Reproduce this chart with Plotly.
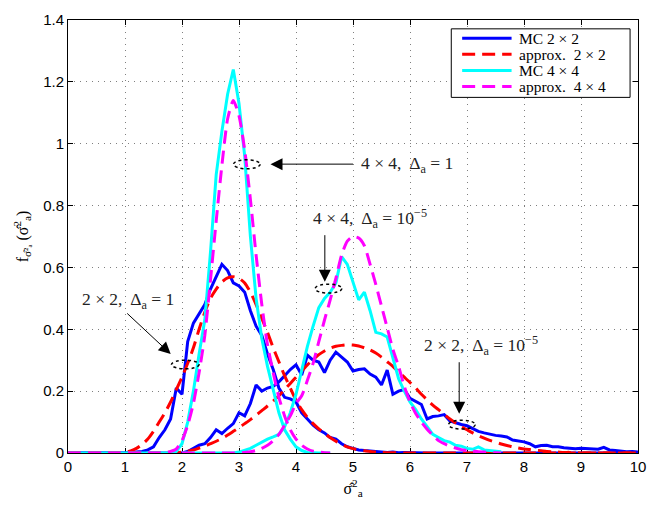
import plotly.graph_objects as go

# bin centres / evaluation points (0 .. 10, step 0.1)
x_vals = [round(0.1 * i, 1) for i in range(101)]
N = None

# MC 2x2, Delta_a = 1
mc22_d1 = [0, 0, 0, 0, 0, 0, 0, 0, 0, 0,
           0, 0, 0.003, 0.005, 0.01, 0.02, 0.05, 0.075, 0.11, 0.21,
           0.19, 0.36, 0.42, 0.45, 0.48, 0.53, 0.57, 0.61, 0.59, 0.55,
           0.54, 0.52, 0.46, 0.41, 0.38, 0.32, 0.27, 0.21, 0.18, 0.175,
           0.165, 0.13, 0.11, 0.09, 0.075, 0.065, 0.05, 0.045, 0.03, 0.02,
           0.015, 0.01, 0.008, 0.006, 0.004, 0.003, 0.002, 0.003, 0.001, 0.002,
           0.001, 0, 0.001, 0, 0, 0, 0, 0, 0, 0,
           0, 0, 0, 0, 0, 0, 0, 0, 0, 0,
           0, 0, 0, 0, 0, 0, 0, 0, 0, 0,
           0, 0, 0, 0, 0, 0, 0, 0, 0, 0,
           0]

# MC 2x2, Delta_a = 1e-5
mc22_d5 = [0, 0, 0, 0, 0, 0, 0, 0, 0, 0,
           0, 0, 0, 0, 0, 0, 0, 0, 0, 0,
           0, 0.005, 0.015, 0.025, 0.03, 0.05, 0.075, 0.063, 0.08, 0.095,
           0.13, 0.12, 0.16, 0.22, 0.2, 0.21, 0.215, 0.23, 0.25, 0.27,
           0.285, 0.252, 0.316, 0.3, 0.294, 0.26, 0.3, 0.326, 0.31, 0.294,
           0.265, 0.27, 0.272, 0.255, 0.245, 0.22, 0.268, 0.19, 0.2, 0.205,
           0.177, 0.168, 0.157, 0.11, 0.118, 0.12, 0.124, 0.104, 0.097, 0.092,
           0.088, 0.08, 0.07, 0.065, 0.06, 0.057, 0.055, 0.052, 0.042, 0.04,
           0.036, 0.03, 0.02, 0.024, 0.025, 0.02, 0.02, 0.017, 0.015, 0.014,
           0.015, 0.014, 0.015, 0.012, 0.018, 0.01, 0.008, 0.006, 0.004, 0.005,
           0.003]

# approx 2x2, Delta_a = 1
ap22_d1 = [0, 0, 0, 0, 0, 0, 0, 0, 0, 0,
           0.002, 0.007, 0.015, 0.028, 0.045, 0.07, 0.1, 0.13, 0.165, 0.205,
           0.245, 0.29, 0.34, 0.4, 0.455, 0.5, 0.53, 0.553, 0.566, 0.57,
           0.565, 0.55, 0.52, 0.48, 0.435, 0.39, 0.34, 0.295, 0.25, 0.21,
           0.17, 0.14, 0.115, 0.095, 0.078, 0.064, 0.05, 0.038, 0.028, 0.02,
           0.014, 0.01, 0.007, 0.005, 0.003, 0.002, 0.001, 0.001, 0, 0,
           0, 0, 0, 0, 0, 0, 0, 0, 0, 0,
           0, 0, 0, 0, 0, 0, 0, 0, 0, 0,
           0, 0, 0, 0, 0, 0, 0, 0, 0, 0,
           0, 0, 0, 0, 0, 0, 0, 0, 0, 0,
           0]

# approx 2x2, Delta_a = 1e-5
ap22_d5 = [0, 0, 0, 0, 0, 0, 0, 0, 0, 0,
           0, 0, 0, 0, 0, 0, 0, 0, 0, 0.001,
           0.003, 0.006, 0.01, 0.016, 0.022, 0.03, 0.038, 0.047, 0.058, 0.07,
           0.082, 0.095, 0.108, 0.122, 0.137, 0.152, 0.168, 0.185, 0.205, 0.225,
           0.245, 0.265, 0.285, 0.302, 0.318, 0.33, 0.339, 0.345, 0.348, 0.35,
           0.349, 0.346, 0.34, 0.333, 0.323, 0.31, 0.295, 0.28, 0.262, 0.245,
           0.228, 0.21, 0.19, 0.172, 0.155, 0.14, 0.125, 0.11, 0.097, 0.085,
           0.075, 0.065, 0.056, 0.048, 0.041, 0.035, 0.029, 0.024, 0.02, 0.016,
           0.013, 0.011, 0.009, 0.007, 0.005, 0.004, 0.003, 0.002, 0.002, 0.001,
           0, 0, 0, 0, 0, 0, 0, 0, 0, 0,
           0]

# MC 4x4, Delta_a = 1
mc44_d1 = [0, 0, 0, 0, 0, 0, 0, 0, 0, 0,
           0, 0, 0, 0, 0, 0, 0, 0, 0, 0.005,
           0.03, 0.1, 0.2, 0.32, 0.43, 0.65, 0.9, 1.04, 1.16, 1.24,
           1.13, 0.96, 0.7, 0.5, 0.37, 0.28, 0.2, 0.13, 0.075, 0.045,
           0.02, 0.008, 0.002, 0, 0, 0, 0] + [N] * 54

# approx 4x4, Delta_a = 1
ap44_d1 = [0, 0, 0, 0, 0, 0, 0, 0, 0, 0,
           0, 0, 0, 0, 0, 0, 0, 0, 0.005, 0.013,
           0.04, 0.09, 0.16, 0.26, 0.38, 0.56, 0.75, 0.93, 1.08, 1.14,
           1.09, 0.98, 0.82, 0.64, 0.48, 0.35, 0.26, 0.18, 0.12, 0.075,
           0.045, 0.025, 0.013, 0.006, 0.003, 0.001, 0] + [N] * 54

# MC 4x4, Delta_a = 1e-5
mc44_d5 = [N] * 20 + [
           0, 0, 0, 0, 0, 0, 0, 0, 0, 0,
           0.003, 0.01, 0.015, 0.025, 0.035, 0.045, 0.052, 0.06, 0.085, 0.13,
           0.19, 0.27, 0.345, 0.41, 0.47, 0.5, 0.52, 0.55, 0.635, 0.61,
           0.555, 0.495, 0.52, 0.46, 0.39, 0.385, 0.375, 0.31, 0.24, 0.2,
           0.165, 0.14, 0.11, 0.085, 0.06, 0.05, 0.04, 0.035, 0.025, 0.022,
           0.015, 0.012, 0.02, 0.01, 0.008, 0.005, 0.004] + [N] * 24

# approx 4x4, Delta_a = 1e-5
ap44_d5 = [N] * 20 + [
           0, 0, 0, 0, 0, 0, 0, 0, 0, 0,
           0, 0.002, 0.004, 0.008, 0.015, 0.025, 0.04, 0.06, 0.09, 0.12,
           0.16, 0.185, 0.235, 0.29, 0.36, 0.43, 0.495, 0.565, 0.64, 0.685,
           0.70, 0.695, 0.67, 0.61, 0.545, 0.475, 0.405, 0.335, 0.28, 0.215,
           0.165, 0.128, 0.1, 0.077, 0.058, 0.04, 0.03, 0.022, 0.016, 0.011,
           0.008, 0.006, 0.004, 0.003, 0.002, 0.001, 0] + [N] * 24

x_ticks = list(range(0, 11))
y_ticks = [0, 0.2, 0.4, 0.6, 0.8, 1, 1.2, 1.4]
legend_names = ["MC 2 × 2", "approx.  2 × 2", "MC 4 × 4", "approx.  4 × 4"]
legend_colors = ["#0000FF", "#FF0000", "#00FFFF", "#FF00FF"]

SERIF = "Liberation Serif, Times New Roman, serif"
SANS = "Liberation Sans, Arial, Helvetica, sans-serif"
DASH = "13px,7px"
LW = 3
legend_dash = ["solid", DASH, "solid", DASH]

fig = go.Figure()

series = [
    (mc22_d1, 0, "linear"),
    (mc22_d5, 0, "linear"),
    (ap22_d1, 1, "spline"),
    (ap22_d5, 1, "spline"),
    (mc44_d1, 2, "linear"),
    (mc44_d5, 2, "linear"),
    (ap44_d1, 3, "spline"),
    (ap44_d5, 3, "spline"),
]
for ys, li, shape in series:
    fig.add_trace(go.Scatter(
        x=x_vals, y=ys, mode="lines",
        line=dict(color=legend_colors[li], width=LW, dash=legend_dash[li],
                  shape=shape, smoothing=0.6),
        name=legend_names[li], legendgroup=legend_names[li],
        showlegend=False, connectgaps=False,
    ))

# compact legend box (paper coordinates)
fig.add_shape(type="rect", xref="paper", yref="paper",
              x0=0.6724, x1=0.9861, y0=0.8213, y1=0.9796,
              line=dict(color="black", width=1), fillcolor="white", layer="above")
row_y = [0.9581, 0.9208, 0.8835, 0.8462]
for i, name in enumerate(legend_names):
    fig.add_shape(type="line", xref="paper", yref="paper",
                  x0=0.6915, x1=0.7782, y0=row_y[i], y1=row_y[i],
                  line=dict(color=legend_colors[i], width=LW, dash=legend_dash[i]),
                  layer="above")
    fig.add_annotation(x=0.7886, y=row_y[i], xref="paper", yref="paper", text=name,
                       showarrow=False, xanchor="left", yanchor="middle", borderpad=0,
                       font=dict(family=SERIF, size=15.5, color="black"))

# annotation texts
texts = [
    dict(x=5.11, y=0.934, text="4 × 4,  Δ<sub>a</sub> = 1", xanchor="left"),
    dict(x=5.295, y=0.759, text="4 × 4,  Δ<sub>a</sub> = 10<sup>−5</sup>", xanchor="center"),
    dict(x=1.057, y=0.494, text="2 × 2,  Δ<sub>a</sub> = 1", xanchor="center"),
    dict(x=7.253, y=0.348, text="2 × 2,  Δ<sub>a</sub> = 10<sup>−5</sup>", xanchor="center"),
]
for t in texts:
    fig.add_annotation(x=t["x"], y=t["y"], xref="x", yref="y", text=t["text"],
                       showarrow=False, xanchor=t["xanchor"], yanchor="middle",
                       font=dict(family=SERIF, size=17.5, color="#222222"))

# arrows (tip in data coords, tail offset in px)
arrows = [
    dict(x=3.553, y=0.934, ax=84, ay=0),
    dict(x=4.506, y=0.554, ax=0, ay=-48),
    dict(x=1.802, y=0.320, ax=-45, ay=-42),
    dict(x=6.863, y=0.127, ax=0, ay=-53),
]
for a in arrows:
    fig.add_annotation(x=a["x"], y=a["y"], xref="x", yref="y", text="",
                       showarrow=True, ax=a["ax"], ay=a["ay"], axref="pixel", ayref="pixel",
                       arrowhead=2, arrowsize=2.4, arrowwidth=1, arrowcolor="#000000")

# dotted ellipses
ellipses = [
    (2.903, 3.371, 0.919, 0.948),
    (4.336, 4.804, 0.517, 0.546),
    (1.815, 2.300, 0.272, 0.300),
    (6.676, 7.144, 0.0775, 0.106),
]
for x0, x1, y0, y1 in ellipses:
    fig.add_shape(type="circle", xref="x", yref="y", x0=x0, x1=x1, y0=y0, y1=y1,
                  line=dict(color="black", width=1.5, dash="dot"))

axis_common = dict(
    showline=True, linecolor="black", linewidth=1, mirror="ticks",
    ticks="inside", ticklen=5, tickcolor="black", tickwidth=1,
    showgrid=True, gridcolor="rgba(0,0,0,0.5)", griddash="1px,5px", gridwidth=1,
    zeroline=False, tickfont=dict(family=SANS, size=15, color="black"),
    layer="below traces",
)

fig.update_layout(
    width=657, height=507,
    margin=dict(l=68, r=12, t=11, b=54),
    paper_bgcolor="white", plot_bgcolor="white",
    xaxis=dict(range=[0, 10], tickvals=x_ticks, **axis_common,
               title=dict(text="σ̂<sup>2</sup><sub>a</sub>", standoff=8,
                          font=dict(family=SERIF, size=16, color="black"))),
    yaxis=dict(range=[0, 1.4], tickvals=y_ticks, **axis_common,
               title=dict(text="f<sub>σ̂²ₐ</sub> (σ̂<sup>2</sup><sub>a</sub>)", standoff=10,
                          font=dict(family=SERIF, size=16, color="black"))),
    showlegend=False,
)

fig.write_html("out.html")
